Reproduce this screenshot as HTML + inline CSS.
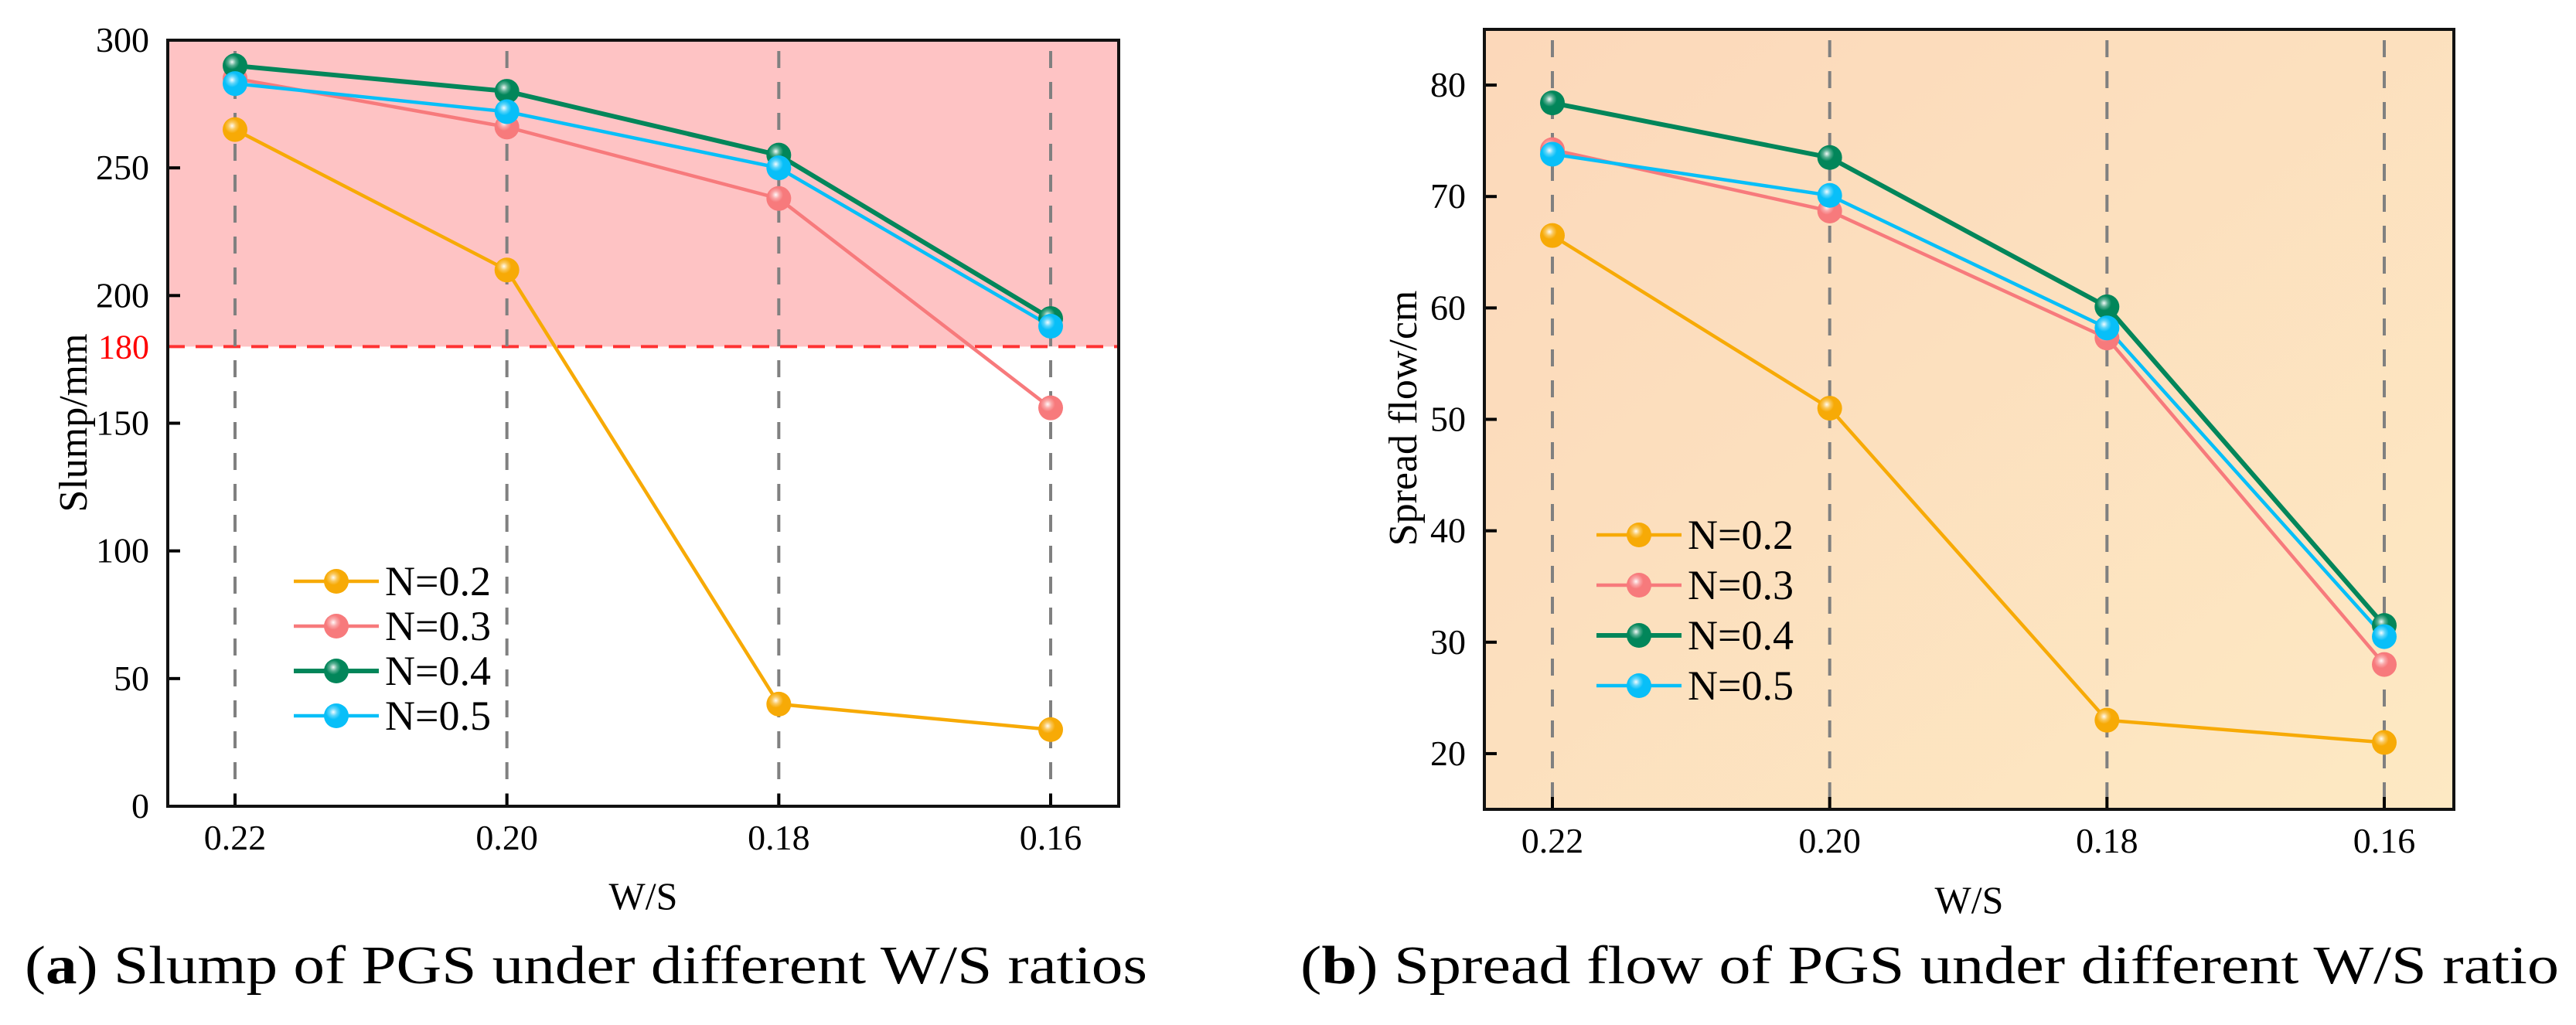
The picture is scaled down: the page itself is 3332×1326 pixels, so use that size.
<!DOCTYPE html>
<html><head><meta charset="utf-8"><style>
html,body{margin:0;padding:0;background:#fff;}
svg{display:block;font-family:"Liberation Serif",serif;}
</style></head><body>
<svg id="fig" width="3332" height="1326" viewBox="0 0 3332 1326" xmlns="http://www.w3.org/2000/svg">
<defs>
<linearGradient id="peach" x1="0" y1="0" x2="1" y2="1">
<stop offset="0" stop-color="#fcd8ba"/><stop offset="1" stop-color="#fde9c3"/>
</linearGradient>
<radialGradient id="shine" cx="0.38" cy="0.35" r="0.6">
<stop offset="0" stop-color="#fff" stop-opacity="0.95"/><stop offset="0.25" stop-color="#fff" stop-opacity="0.35"/><stop offset="0.5" stop-color="#fff" stop-opacity="0"/>
</radialGradient>
</defs>
<g id="chartA"></g>
<g id="chartB"></g>
<text x="32" y="1272" font-size="70" textLength="1452" lengthAdjust="spacingAndGlyphs">(<tspan font-weight="bold">a</tspan>) Slump of PGS under different W/S ratios</text>
<text x="1682" y="1272" font-size="70" textLength="1628" lengthAdjust="spacingAndGlyphs">(<tspan font-weight="bold">b</tspan>) Spread flow of PGS under different W/S ratio</text>
</svg>
<script>
const categories = ["0.22", "0.20", "0.18", "0.16"];
const seriesNames = ["N=0.2", "N=0.3", "N=0.4", "N=0.5"];
const slumpN02 = [265, 210, 40, 30];
const slumpN03 = [285, 266, 238, 156];
const slumpN04 = [290, 280, 255, 191];
const slumpN05 = [283, 272, 250, 188];
const slumpTicks = [0, 50, 100, 150, 200, 250, 300];
const slumpThreshold = 180;
const spreadN02 = [66.5, 51, 23, 21];
const spreadN03 = [74.2, 68.7, 57.3, 28];
const spreadN04 = [78.4, 73.5, 60.1, 31.5];
const spreadN05 = [73.8, 70.1, 58.2, 30.5];
const spreadTicks = [20, 30, 40, 50, 60, 70, 80];

const colors = ["#f7aa06", "#f77a7c", "#02865a", "#08bff8"];
const NS = "http://www.w3.org/2000/svg";
function mk(parent, tag, attrs, text) {
  const e = document.createElementNS(NS, tag);
  for (const k in attrs) e.setAttribute(k, attrs[k]);
  if (text !== undefined) e.textContent = text;
  parent.appendChild(e);
  return e;
}

function drawChart(g, cfg) {
  const xs = i => cfg.x0 + i * (cfg.x3 - cfg.x0) / (categories.length - 1);
  const ys = v => cfg.bottom - (v - cfg.ymin) / (cfg.ymax - cfg.ymin) * (cfg.bottom - cfg.top);
  const bg = mk(g, "rect", {x: cfg.left, y: cfg.top, width: cfg.right - cfg.left, height: cfg.bottom - cfg.top, fill: cfg.bgFill});
  
  
  if (cfg.threshold !== undefined) {
    const z = mk(g, "rect", {x: cfg.left, y: cfg.top, width: cfg.right - cfg.left, height: ys(cfg.threshold) - cfg.top, fill: "#fec3c4"});
    
    
    const tl = mk(g, "line", {x1: cfg.left, x2: cfg.right, y1: ys(cfg.threshold), y2: ys(cfg.threshold), stroke: "#f33", "stroke-width": 4, "stroke-dasharray": "22 14"});
    
    
    const tt = mk(g, "text", {x: cfg.left - 24, y: ys(cfg.threshold) + 15, "font-size": 44, fill: "#f00", "text-anchor": "end"}, String(cfg.threshold));
    
    
  }
  categories.forEach((c, i) => {
    const gl = mk(g, "line", {x1: xs(i), x2: xs(i), y1: cfg.top + 14, y2: cfg.bottom, stroke: "#808080", "stroke-width": 4, "stroke-dasharray": "22 18"});
    
    
    mk(g, "line", {x1: xs(i), x2: xs(i), y1: cfg.bottom - 16, y2: cfg.bottom, stroke: "#000", "stroke-width": 4});
    const t = mk(g, "text", {x: xs(i), y: cfg.bottom + 56, "font-size": 46, "text-anchor": "middle"}, c);
    
    
  });
  cfg.ticks.forEach(v => {
    mk(g, "line", {x1: cfg.left, x2: cfg.left + 16, y1: ys(v), y2: ys(v), stroke: "#000", "stroke-width": 4});
    const t = mk(g, "text", {x: cfg.left - 24, y: ys(v) + 15, "font-size": 46, "text-anchor": "end"}, String(v));
    
    
  });
  cfg.series.forEach((vals, s) => {
    const pts = vals.map((v, i) => xs(i) + "," + ys(v)).join(" ");
    const pl = mk(g, "polyline", {points: pts, fill: "none", stroke: colors[s], "stroke-width": s === 2 ? 6 : 4.5});
    
    
  });
  cfg.series.forEach((vals, s) => {
    vals.forEach((v, i) => {
      const c = mk(g, "circle", {cx: xs(i), cy: ys(v), r: 16, fill: colors[s]});
      
      
      mk(g, "circle", {cx: xs(i), cy: ys(v), r: 16, fill: "url(#shine)"});
    });
  });
  const fr = mk(g, "rect", {x: cfg.left, y: cfg.top, width: cfg.right - cfg.left, height: cfg.bottom - cfg.top, fill: "none", stroke: "#111", "stroke-width": 4});
  
  
  seriesNames.forEach((n, s) => {
    const y = cfg.legY0 + s * cfg.legDy;
    const lg = mk(g, "g", {});
    
    
    mk(lg, "line", {x1: cfg.legX, x2: cfg.legX + 110, y1: y, y2: y, stroke: colors[s], "stroke-width": s === 2 ? 6 : 4.5});
    mk(lg, "circle", {cx: cfg.legX + 55, cy: y, r: 16, fill: colors[s]});
    mk(lg, "circle", {cx: cfg.legX + 55, cy: y, r: 16, fill: "url(#shine)"});
    mk(lg, "text", {x: cfg.legX + 118, y: y + 18, "font-size": 54}, n);
  });
  const xt = mk(g, "text", {x: (cfg.left + cfg.right) / 2, y: cfg.xTitleY, "font-size": 50, "text-anchor": "middle"}, "W/S");
  
  
  const yt = mk(g, "text", {x: 0, y: 0, "font-size": 52, "text-anchor": "middle", transform: "translate(" + cfg.yTitleX + "," + cfg.yTitleY + ") rotate(-90)"}, cfg.yTitle);
  
  
}

drawChart(document.getElementById("chartA"), {
  left: 217, right: 1447, top: 52, bottom: 1043, x0: 304, x3: 1359,
  ymin: 0, ymax: 300, ticks: slumpTicks, threshold: slumpThreshold,
  series: [slumpN02, slumpN03, slumpN04, slumpN05], bgFill: "#fff",
  legX: 380, legY0: 752, legDy: 58, xTitleY: 1176, yTitleX: 112, yTitleY: 547, yTitle: "Slump/mm"
});
drawChart(document.getElementById("chartB"), {
  left: 1920, right: 3174, top: 38, bottom: 1047, x0: 2008, x3: 3084,
  ymin: 15, ymax: 85, ticks: spreadTicks,
  series: [spreadN02, spreadN03, spreadN04, spreadN05], bgFill: "url(#peach)",
  legX: 2065, legY0: 692, legDy: 65, xTitleY: 1181, yTitleX: 1832, yTitleY: 541, yTitle: "Spread flow/cm"
});
</script>
</body></html>
